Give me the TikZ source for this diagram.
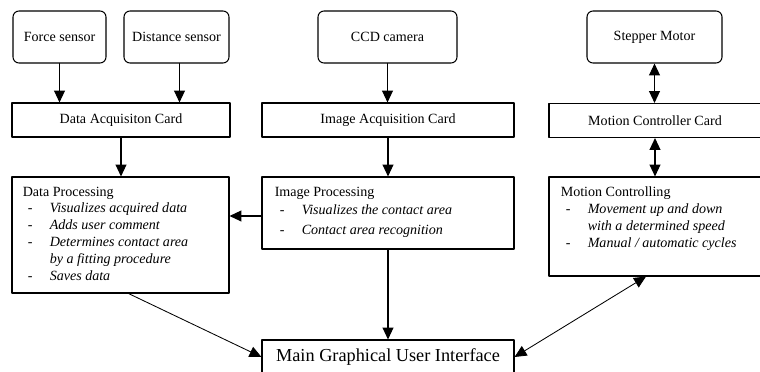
\documentclass[tikz,border=0pt]{standalone}
\usepackage{fontspec}
\setmainfont{Liberation Serif}
\usetikzlibrary{arrows.meta,positioning}
\newlength\px
\setlength\px{0.025cm}
\newcommand\itm[1]{\hspace*{5\px}\makebox[22\px][l]{-}\textit{#1}}
\newcommand\cnt[1]{\hspace*{27\px}\textit{#1}}

\begin{document}
\begin{tikzpicture}[line cap=round,line join=round,x=0.025cm,y=-0.025cm,
    dev/.style={draw,line width=0.75pt,rounded corners=6\px,minimum height=52\px,inner sep=0pt},
    card/.style={draw,line width=0.75pt,minimum height=34\px,inner sep=0pt},
    pbox/.style={draw,line width=0.75pt,inner sep=0pt},
    txt/.style={inner sep=0pt,align=left},
    arr/.style={-{Triangle[length=8.5pt,width=7.8pt]},line width=0.8pt},
    darr/.style={{Triangle[length=8.5pt,width=7.8pt]}-{Triangle[length=8.5pt,width=7.8pt]},line width=0.8pt}]

    \useasboundingbox (0,0) rectangle (760,372);
    \clip (0,0) rectangle (760,372);

    % sensors and devices
    \node [dev,minimum width=93\px] (force) at (59.5,37) {Force sensor};
    \node [dev,minimum width=105\px] (dist) at (176.5,37) {Distance sensor};
    \node [dev,minimum width=139\px] (ccd) at (387.5,37) {CCD camera};
    \node [dev,minimum width=135\px] (motor) at (654.5,37) {Stepper Motor};

    % cards
    \node [card,minimum width=218\px] (dacq) at (121,120) {Data Acquisiton Card};
    \node [card,minimum width=252\px] (iacq) at (388,120) {Image Acquisition Card};
    \node [card,minimum width=212\px] (mcc) at (655,120.5) {Motion Controller Card};

    % processing boxes
    \node [pbox,minimum width=217\px,minimum height=116\px] (dproc) at (120.5,235) {};
    \node [txt,below right=10\px and 11\px of dproc.north west] (dproctxt) {Data Processing\\
        \itm{Visualizes acquired data}\\
        \itm{Adds user comment}\\
        \itm{Determines contact area}\\
        \cnt{by a fitting procedure}\\
        \itm{Saves data}};

    \node [pbox,minimum width=252\px,minimum height=72\px] (iproc) at (388,213) {};
    \node [txt,below right=10\px and 13\px of iproc.north west] (iproctxt) {Image Processing\\[1pt]
        \itm{Visualizes the contact area}\\[2pt]
        \itm{Contact area recognition}};

    \node [pbox,minimum width=212\px,minimum height=99\px] (mproc) at (655,226.5) {};
    \node [txt,below right=10\px and 12\px of mproc.north west] (mproctxt) {Motion Controlling\\
        \itm{Movement up and down}\\
        \cnt{with a determined speed}\\
        \itm{Manual / automatic cycles}};

    \node [card,minimum width=252\px,font=\fontsize{13}{15}\selectfont] (gui) at (388,357) {Main Graphical User Interface};

    % connections
    \draw [arr] (force.south) -- (force.south |- dacq.north);
    \draw [arr] ([xshift=3\px]dist.south) -- ([xshift=3\px]dist.south |- dacq.north);
    \draw [arr] (ccd.south) -- (ccd.south |- iacq.north);
    \draw [darr] (motor.south) -- (motor.south |- mcc.north);

    \draw [arr] (dacq.south) -- (dacq.south |- dproc.north);
    \draw [arr] (iacq.south) -- (iacq.south |- iproc.north);
    \draw [darr] (mcc.south) -- (mcc.south |- mproc.north);

    \draw [arr] ([yshift=-3\px]iproc.west) -- ([yshift=-3\px]iproc.west -| dproc.east);
    \draw [arr,line width=0.6pt] ([xshift=8\px]dproc.south) -- (gui.west);
    \draw [arr] (iproc.south) -- (gui.north);
    \draw [darr,line width=0.6pt] ([xshift=-9\px]mproc.south) -- (gui.east);
\end{tikzpicture}
\end{document}
